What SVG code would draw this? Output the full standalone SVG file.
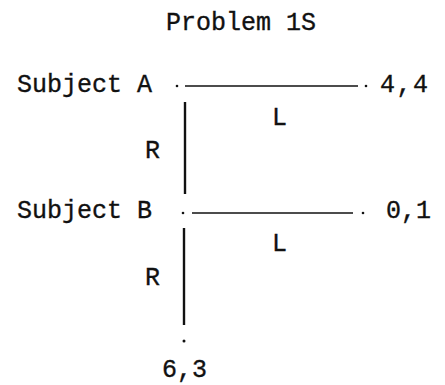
<svg xmlns="http://www.w3.org/2000/svg" width="445" height="385" viewBox="0 0 445 385">
  <style>
    .t { font-family: "Liberation Mono", "Courier New", monospace; font-size: 25px; fill: #111; stroke: #111; stroke-width: 0.35; }
    .e { stroke: #111; fill: none; }
    .h { stroke-width: 1.6; }
    .v { stroke-width: 2.4; }
    .d { fill: #111; }
  </style>
  <rect width="445" height="385" fill="#fff"/>
  <g id="title"><text class="t" x="166" y="30">Problem 1S</text></g>
  <g id="subjectA">
    <text class="t" x="17" y="92">Subject A</text>
    <circle class="d" cx="177" cy="86" r="1.3"/>
  </g>
  <g id="subjectB">
    <text class="t" x="17" y="218">Subject B</text>
    <circle class="d" cx="183" cy="213" r="1.3"/>
  </g>
  <g id="outcome44">
    <circle class="d" cx="366" cy="86" r="1.3"/>
    <text class="t" x="380" y="92" letter-spacing="1.5">4,4</text>
  </g>
  <g id="outcome01">
    <circle class="d" cx="363" cy="213" r="1.3"/>
    <text class="t" x="386" y="218">0,1</text>
  </g>
  <g id="outcome63">
    <circle class="d" cx="184" cy="341" r="1.5"/>
    <text class="t" x="162" y="377">6,3</text>
  </g>
  <g id="connectors">
    <line class="e h" x1="185" y1="86" x2="358" y2="86"/>
    <line class="e v" x1="185" y1="102" x2="185" y2="194"/>
    <line class="e h" x1="192" y1="213" x2="353" y2="213"/>
    <line class="e v" x1="184" y1="228" x2="184" y2="325"/>
    <text class="t" x="272" y="125">L</text>
    <text class="t" x="145" y="158">R</text>
    <text class="t" x="272" y="251">L</text>
    <text class="t" x="145" y="285">R</text>
  </g>
</svg>
